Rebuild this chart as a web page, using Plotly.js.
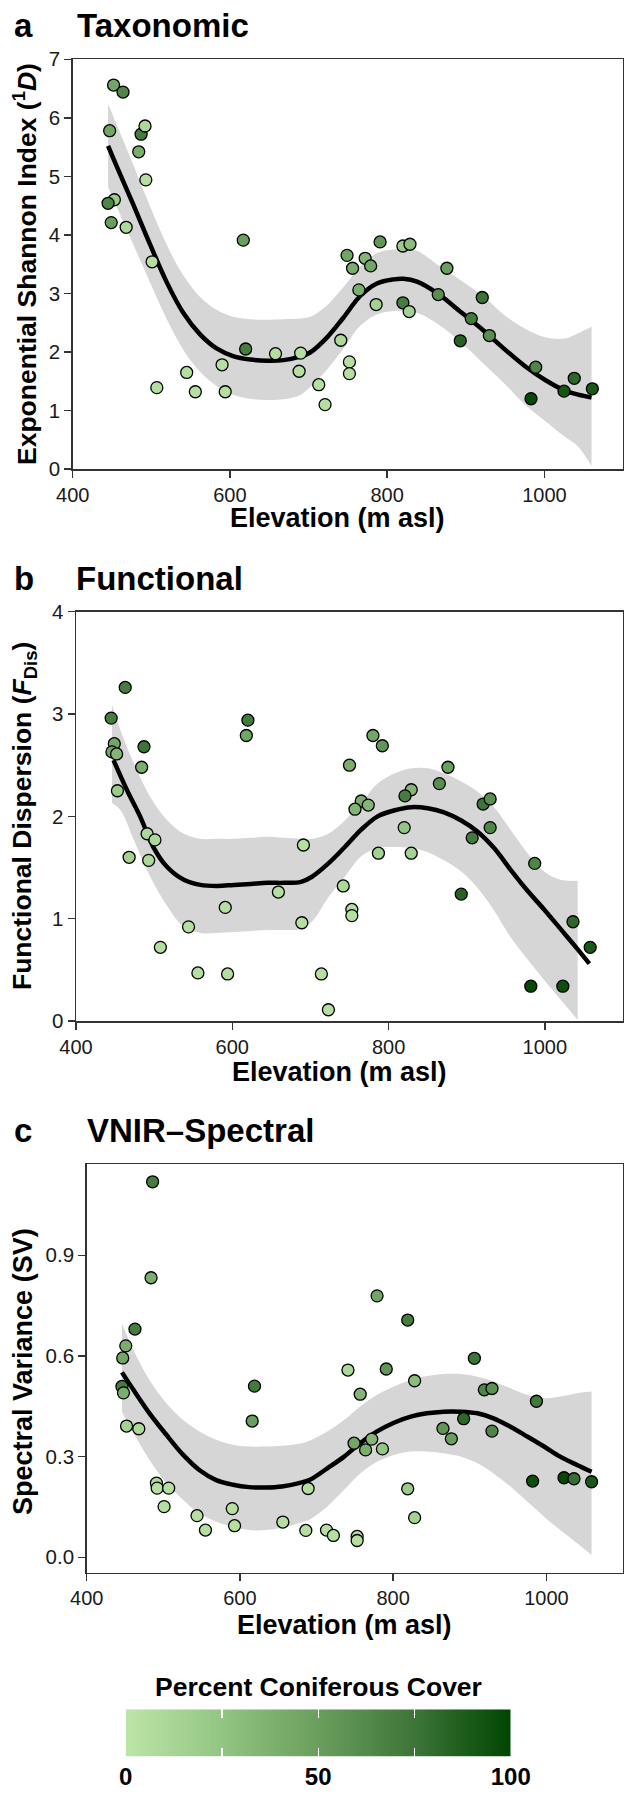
<!DOCTYPE html>
<html>
<head>
<meta charset="utf-8">
<script src="https://cdn.plot.ly/plotly-3.0.1.min.js"></script>
<style>
  html, body { margin: 0; padding: 0; background: #ffffff; }
  #chart { width: 624px; height: 1794px; }
</style>
</head>
<body>
<div id="chart"></div>
<script>
// ---------------- Data ----------------
// Panel a: Taxonomic diversity
const aElev  = [452,464,447,487,492,484,493,453,445,449, 468,501,507,545,556,590,594,617,620,658, 690,688,713,721,741,752,752,749,756,764, 772,779,786,791,820,829,820,828,865,876, 893,907,921,930,989,983,1025,1038,1061];
const aDiv   = [6.56,6.44,5.78,5.72,5.86,5.42,4.94,4.60,4.54,4.21, 4.13,3.54,1.39,1.65,1.32,1.78,1.32,3.91,2.05,1.97, 1.98,1.67,1.44,1.10,2.20,1.83,1.63,3.65,3.43,3.06, 3.60,3.47,2.81,3.88,3.81,3.84,2.84,2.69,2.98,3.43, 2.19,2.57,2.93,2.28,1.74,1.20,1.33,1.55,1.37];
const aCover = [45,65,45,70,10,40,5,20,65,50, 10,5,5,5,5,5,5,50,70,5, 5,5,5,5,10,5,5,45,40,40, 35,45,15,55,20,30,70,15,60,50, 85,72,75,60,65,98,92,82,90];
const aFitX  = [445,456,477,498,520,541,562,583,604,626,647,668,689,702,723,744,766,787,808,821,838,864,894,924,950,975,1001,1026,1043,1060];
const aFit   = [5.52,5.17,4.52,3.85,3.18,2.66,2.30,2.06,1.93,1.87,1.85,1.86,1.92,1.99,2.24,2.58,2.96,3.17,3.24,3.25,3.20,3.00,2.68,2.35,2.04,1.76,1.52,1.34,1.27,1.22];
const aUpper = [6.24,5.88,5.20,4.50,3.82,3.30,2.94,2.72,2.60,2.56,2.55,2.56,2.57,2.60,2.79,3.10,3.46,3.69,3.75,3.76,3.73,3.49,3.22,2.93,2.62,2.40,2.25,2.23,2.32,2.43];
const aLower = [4.82,4.48,3.84,3.20,2.55,2.03,1.66,1.42,1.27,1.20,1.18,1.19,1.26,1.40,1.69,2.05,2.45,2.64,2.70,2.70,2.67,2.48,2.16,1.78,1.45,1.10,0.82,0.55,0.38,0.05];

// Panel b: Functional dispersion
const bElev  = [445,463,449,446,452,487,484,453,491,501, 468,493,544,508,556,594,591,620,618,659, 691,689,714,723,742,753,753,750,765,757, 774,787,780,792,820,829,821,829,865,876, 893,907,921,930,930,987,982,1023,1036,1058];
const bDiv   = [2.96,3.26,2.71,2.63,2.61,2.68,2.48,2.25,1.83,1.77, 1.60,1.57,0.92,0.72,0.47,0.46,1.11,2.94,2.79,1.26, 1.72,0.96,0.46,0.11,1.32,1.09,1.03,2.50,2.15,2.07, 2.11,1.64,2.79,2.69,1.89,2.26,2.20,1.64,2.32,2.48, 1.24,1.79,2.12,2.17,1.89,1.54,0.34,0.34,0.97,0.72];
const bCover = [70,70,45,45,35,75,40,20,10,10, 15,10,5,5,5,5,5,72,45,5, 5,5,5,5,10,5,5,40,40,35, 35,15,45,55,25,35,70,15,60,50, 85,72,75,60,65,65,98,95,82,90];
const bFitX  = [448,465,482,499,516,538,559,581,602,624,645,666,688,702,723,744,765,786,808,829,850,871,893,914,935,956,977,999,1020,1041,1057];
const bFit   = [2.55,2.26,2.00,1.70,1.51,1.38,1.33,1.32,1.33,1.34,1.35,1.35,1.36,1.41,1.54,1.70,1.87,2.00,2.06,2.09,2.08,2.04,1.96,1.85,1.69,1.48,1.28,1.09,0.90,0.71,0.56];
const bBandX = [446,457,474,495,517,538,559,581,602,624,645,666,688,703,723,744,765,786,808,829,850,871,893,914,935,956,978,999,1020,1042];
const bUpper = [3.09,2.84,2.52,2.19,1.96,1.83,1.78,1.78,1.78,1.79,1.80,1.79,1.78,1.78,1.83,1.96,2.13,2.32,2.42,2.47,2.47,2.42,2.34,2.24,2.09,1.87,1.64,1.46,1.38,1.37];
const bLower = [2.13,2.06,1.77,1.41,1.12,0.92,0.86,0.86,0.87,0.88,0.89,0.89,0.90,0.98,1.21,1.41,1.61,1.69,1.70,1.69,1.65,1.57,1.46,1.30,1.08,0.82,0.60,0.40,0.21,0.01];

// Panel c: VNIR spectral variance
const cElev  = [486,484,463,451,447,446,448,452,468,491, 492,507,501,544,555,590,593,619,616,656, 686,689,713,722,753,753,741,757,749,764, 772,786,779,791,819,828,819,828,865,876, 892,906,919,929,929,987,982,1023,1036,1059];
const cSV    = [1.119,0.833,0.680,0.630,0.594,0.509,0.490,0.391,0.383,0.221, 0.206,0.206,0.151,0.124,0.081,0.145,0.094,0.510,0.406,0.105, 0.080,0.205,0.081,0.065,0.062,0.050,0.558,0.486,0.340,0.320, 0.352,0.323,0.779,0.561,0.707,0.526,0.204,0.118,0.384,0.353, 0.413,0.593,0.499,0.503,0.376,0.465,0.227,0.237,0.234,0.225];
const cCover = [70,40,70,40,45,70,40,15,10,10, 5,5,5,5,5,5,5,72,50,5, 5,5,5,5,5,5,10,35,45,40, 35,25,45,55,70,30,20,15,55,50, 82,75,65,58,65,72,95,98,78,90];
const cFitX  = [446,461,482,504,526,547,569,591,612,634,655,677,692,714,736,757,779,801,823,844,866,888,910,931,953,975,997,1018,1040,1059];
const cFit   = [0.551,0.499,0.429,0.365,0.305,0.260,0.230,0.216,0.209,0.208,0.211,0.221,0.232,0.265,0.300,0.340,0.375,0.401,0.419,0.429,0.434,0.434,0.429,0.414,0.389,0.360,0.330,0.300,0.275,0.255];
const cUpper = [0.697,0.618,0.528,0.459,0.409,0.375,0.350,0.335,0.330,0.330,0.332,0.338,0.349,0.375,0.409,0.449,0.484,0.509,0.528,0.540,0.546,0.546,0.538,0.524,0.504,0.484,0.474,0.479,0.489,0.494];
const cLower = [0.434,0.370,0.290,0.221,0.171,0.131,0.106,0.091,0.081,0.081,0.088,0.101,0.114,0.151,0.201,0.250,0.285,0.305,0.315,0.315,0.310,0.300,0.280,0.250,0.211,0.166,0.121,0.081,0.042,0.007];

// Tick labels
const xTicks = [400, 600, 800, 1000];
const aYTicks = [0,1,2,3,4,5,6,7];
const bYTicks = [0,1,2,3,4];
const cYTicks = [0.0, 0.3, 0.6, 0.9];
const cYTickText = ['0.0','0.3','0.6','0.9'];
const coverScale = [0, 25, 50, 75, 100];     // legend gradient stops
const coverLabels = [0, 50, 100];            // labelled legend ticks
const coverMinor = [25, 75];                 // unlabelled legend ticks

// ---------------- Styling ----------------
const FONT = 'Liberation Sans, Arial, Helvetica, sans-serif';
const W = 624, H = 1794;
const greens = [[0,'#bde5a8'],[0.25,'#93c583'],[0.5,'#6a9e5d'],[0.75,'#3d7538'],[1,'#004600']];
const bandColor = 'rgb(214,214,214)';

function px(x) { return x / W; }
function py(y) { return 1 - y / H; }

function panelTraces(xa, ya, elev, vals, cover, fitX, fit, bandX, upper, lower) {
  return [
    { type:'scatter', mode:'lines', x: bandX, y: lower, xaxis: xa, yaxis: ya,
      line:{width:0, shape:'spline', color: bandColor}, hoverinfo:'skip', showlegend:false },
    { type:'scatter', mode:'lines', x: bandX, y: upper, xaxis: xa, yaxis: ya,
      line:{width:0, shape:'spline', color: bandColor}, fill:'tonexty', fillcolor: bandColor,
      hoverinfo:'skip', showlegend:false },
    { type:'scatter', mode:'lines', x: fitX, y: fit, xaxis: xa, yaxis: ya,
      line:{width:4.5, shape:'spline', color:'#000000'}, hoverinfo:'skip', showlegend:false },
    { type:'scatter', mode:'markers', x: elev, y: vals, xaxis: xa, yaxis: ya,
      marker:{ size:12, color: cover, coloraxis:'coloraxis', line:{color:'#000000', width:1.3} },
      showlegend:false }
  ];
}

const traces = [].concat(
  panelTraces('x', 'y', aElev, aDiv, aCover, aFitX, aFit, aFitX, aUpper, aLower),
  panelTraces('x2','y2', bElev, bDiv, bCover, bFitX, bFit, bBandX, bUpper, bLower),
  panelTraces('x3','y3', cElev, cSV, cCover, cFitX, cFit, cFitX, cUpper, cLower),
  [{ type:'heatmap', x: coverScale, y: [0, 1], z: [coverScale, coverScale],
     xaxis:'x4', yaxis:'y4', colorscale: greens, zmin:0, zmax:100, zsmooth:'best',
     showscale:false, hoverinfo:'skip' }]
);

function xAxis(left, anchor) {
  return { domain:[px(left), px(623)], range:[400,1100], anchor: anchor,
    tickmode:'array', tickvals: xTicks, ticks:'outside', ticklen:7, tickwidth:1.5, tickcolor:'#333333',
    showline:true, mirror:true, linecolor:'#333333', linewidth:1.5,
    showgrid:false, zeroline:false, tickfont:{family:FONT, size:20, color:'#1a1a1a'} };
}
function yAxis(top, bottom, range, tickvals, ticktext, anchor) {
  const ax = { domain:[py(bottom), py(top)], range: range, anchor: anchor,
    tickmode:'array', tickvals: tickvals, ticks:'outside', ticklen:7, tickwidth:1.5, tickcolor:'#333333',
    showline:true, mirror:true, linecolor:'#333333', linewidth:1.5,
    showgrid:false, zeroline:false, tickfont:{family:FONT, size:20.5, color:'#1a1a1a'} };
  if (ticktext) ax.ticktext = ticktext;
  return ax;
}

function ann(text, x, y, size, opts) {
  return Object.assign({ text: text, xref:'paper', yref:'paper', x: px(x), y: py(y),
    showarrow:false, xanchor:'center', yanchor:'middle',
    font:{family:FONT, size:size, color:'#000000'} }, opts || {});
}

const annotations = [
  // panel letters and titles
  ann('<b>a</b>', 12, 25, 33, {xanchor:'left'}),
  ann('<b>Taxonomic</b>', 75, 25, 33, {xanchor:'left'}),
  ann('<b>b</b>', 12, 578, 33, {xanchor:'left'}),
  ann('<b>Functional</b>', 74, 578, 33, {xanchor:'left'}),
  ann('<b>c</b>', 12, 1130, 33, {xanchor:'left'}),
  ann('<b>VNIR\u2013Spectral</b>', 85, 1130, 33, {xanchor:'left'}),
  // y titles
  ann('<b>Exponential Shannon Index (<sup>1</sup><i>D</i>)</b>', 25, 264, 26.5, {textangle:-90}),
  ann('<b>Functional Dispersion (<i>F</i><sub>Dis</sub>)</b>', 24, 816, 26.5, {textangle:-90}),
  ann('<b>Spectral Variance (SV)</b>', 23, 1372, 27, {textangle:-90}),
  // x titles
  ann('<b>Elevation (m asl)</b>', 337, 518, 27),
  ann('<b>Elevation (m asl)</b>', 339, 1072, 27),
  ann('<b>Elevation (m asl)</b>', 344, 1625, 27),
  // legend title
  ann('<b>Percent Coniferous Cover</b>', 318, 1687, 26.5)
];

const layout = {
  width: W, height: H,
  margin:{l:0, r:0, t:0, b:0, pad:0},
  paper_bgcolor:'#ffffff', plot_bgcolor:'#ffffff',
  showlegend:false,
  hovermode:false,
  font:{family:FONT, color:'#000000'},
  xaxis:  xAxis(72.7, 'y'),
  yaxis:  yAxis(59.3, 469, [0,7], aYTicks, null, 'x'),
  xaxis2: xAxis(76, 'y2'),
  yaxis2: yAxis(611.7, 1021, [0,4], bYTicks, null, 'x2'),
  xaxis3: xAxis(86.7, 'y3'),
  yaxis3: yAxis(1164, 1572.7, [-0.046, 1.172], cYTicks, cYTickText, 'x3'),
  // legend colour bar axes
  xaxis4: { domain:[px(125.7), px(510.7)], range:[0,100], anchor:'y4',
    tickmode:'array', tickvals: coverLabels, ticks:'inside', ticklen:9, tickwidth:1.2, tickcolor:'#ffffff',
    mirror:'ticks', showline:false, showgrid:false, zeroline:false,
    minor:{ tickmode:'array', tickvals: coverMinor, ticks:'inside', ticklen:9, tickwidth:1.2, tickcolor:'#ffffff', showgrid:false },
    ticklabelstandoff: 3,
    tickfont:{family:FONT, size:24, color:'#000000', weight:'bold'} },
  yaxis4: { domain:[py(1756.7), py(1709.3)], range:[0,1], anchor:'x4',
    showticklabels:false, ticks:'', showline:false, showgrid:false, zeroline:false },
  coloraxis: { cmin:0, cmax:100, colorscale: greens, showscale:false },
  annotations: annotations
};

Plotly.newPlot('chart', traces, layout, {displayModeBar:false, staticPlot:true});
</script>
</body>
</html>
